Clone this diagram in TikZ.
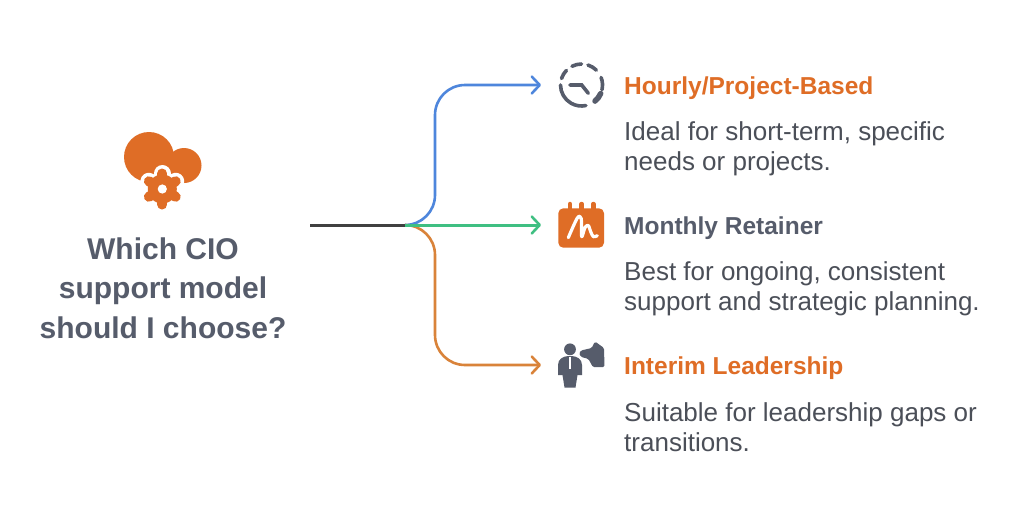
\documentclass[tikz,border=0pt]{standalone}
\usepackage{fontspec}
\setmainfont{Liberation Sans}
\usetikzlibrary{arrows.meta}
\definecolor{iconorange}{HTML}{DF6D26}
\definecolor{slategray}{HTML}{565C6B}
\definecolor{bodygray}{HTML}{4B4F58}
\definecolor{bluearrow}{HTML}{4E86DC}
\definecolor{greenarrow}{HTML}{3FBF82}
\definecolor{orangearrow}{HTML}{D9833A}
\tikzset{
  branch/.style={line width=2.6pt, rounded corners=30pt, -{Straight Barb[length=8pt,width=17pt,line width=2.6pt,round]}},
  heading/.style={anchor=base west, inner sep=0pt, font=\bfseries\fontsize{24.5}{30}\selectfont},
  detail/.style={anchor=west, inner sep=0pt, align=left, text=bodygray, font=\fontsize{26}{30}\selectfont},
  clockarc/.style={draw=slategray, line width=3.6pt, line cap=round}
}
\begin{document}
\begin{tikzpicture}[x=1pt,y=-1pt]
  \useasboundingbox (0,0) rectangle (1024,520);
  \fill[white] (0,0) rectangle (1024,520);

  % question
  \node [anchor=center, inner sep=0pt, align=center, text=slategray, font=\bfseries\fontsize{30}{39.5}\selectfont] (question) at (163,288) {Which CIO\\support model\\should I choose?};

  % cloud and gear
  \fill[iconorange] (149,157) circle (25);
  \fill[iconorange] (184,165.5) circle (17.5);
  \fill[iconorange] (149,160) rectangle (184,182.5);
  \foreach \a in {30,90,...,330} {
    \draw[white, line width=17pt, line cap=round] (162.3,189) -- ++(\a:15.5);
  }
  \fill[iconorange] (162.3,189) circle (14.5);
  \foreach \a in {30,90,...,330} {
    \draw[iconorange, line width=10pt, line cap=round] (162.3,189) -- ++(\a:15.5);
  }
  \fill[white] (162.3,189) circle (4.6);

  % connectors
  \coordinate (start) at (310,225);
  \coordinate (split) at (405,225);
  \coordinate (hourlyend) at (541,85);
  \coordinate (monthlyend) at (541,225);
  \coordinate (interimend) at (541,365);
  \draw[branch, bluearrow] (split) -- ++(30,0) |- (hourlyend);
  \draw[branch, orangearrow] (split) -- ++(30,0) |- (interimend);
  \draw[branch, greenarrow, line width=3pt] (split) -- (monthlyend);
  \draw[line width=3pt, black!75] (start) -- (split);

  % clock
  \foreach \a/\b in {117/90, 72/45, 21/-13, 180/282, 162/136} {
    \draw[clockarc] ({581.5+21*cos(\a)},{85-21*sin(\a)}) arc[start angle=-\a, end angle=-\b, radius=21];
  }
  \draw[clockarc] (570,85) -- (581.7,85) -- (588.3,93.3);
  \draw[clockarc, line width=5.5pt] ({581.5+21*cos(-24)},{85-21*sin(-24)}) arc[start angle=24, end angle=50, radius=21];

  % calendar
  \draw[draw=iconorange, line width=4.5pt, line cap=round] (570,204) -- (570,212) (581.7,204) -- (581.7,212) (593.3,204) -- (593.3,212);
  \fill[iconorange, rounded corners=5pt] (558.3,208.3) rectangle (604,247.7);
  \draw[white, line width=3.2pt, line cap=round, line join=round] plot[smooth] coordinates {(568.3,237.7) (577.3,218) (581.2,218.5) (581.7,236.7) (585,227.5) (588.3,225.5) (590.7,231.7) (593.3,236.7) (597.3,235.7)};

  % person and hand
  \fill[slategray] (570,349.3) circle (5.9);
  \fill[slategray] (558,375) -- (558,365) .. controls (558,359) and (563,356.5) .. (568,356) -- (572,356) .. controls (577,356.5) and (582,359) .. (582,365) -- (582,375) -- (577.5,375) -- (575.5,387.5) -- (564.5,387.5) -- (562.5,375) -- cycle;
  \draw[white, line width=2.8pt] (570,356.5) -- (570,368.5);
  \fill[slategray, rounded corners=1.5pt] (579,353) -- (581,350.5) -- (591.7,348) -- (595,341.5) -- (604,348) -- (604.5,367.2) -- (593,367.2) -- (588.3,358.8) -- (581,357) -- cycle;

  % options
  \node [heading, text=iconorange] (hourly) at (624,94) {Hourly/Project-Based};
  \node [detail] (hourlytext) at (624,148.5) {Ideal for short-term, specific\\needs or projects.};
  \node [heading, text=slategray] (monthly) at (624,234) {Monthly Retainer};
  \node [detail] (monthlytext) at (624,288.5) {Best for ongoing, consistent\\support and strategic planning.};
  \node [heading, text=iconorange] (interim) at (624,374) {Interim Leadership};
  \node [detail] (interimtext) at (624,427) {Suitable for leadership gaps or\\transitions.};
\end{tikzpicture}
\end{document}
